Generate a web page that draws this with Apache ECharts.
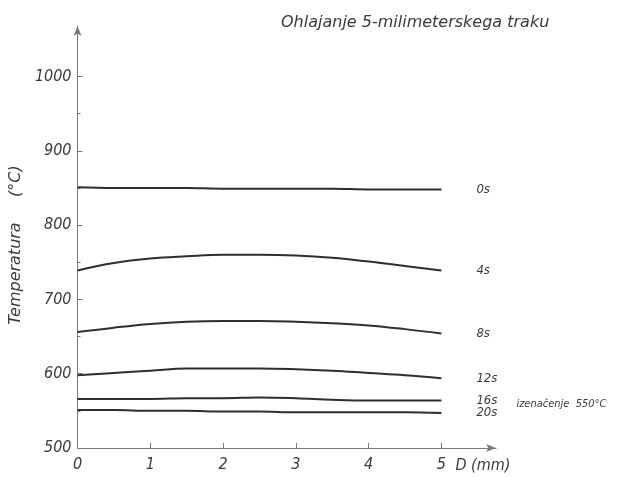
<!DOCTYPE html>
<html>
<head>
<meta charset="utf-8">
<script src="https://cdn.jsdelivr.net/npm/echarts@6/dist/echarts.min.js"></script>
<style>
  html, body { margin: 0; padding: 0; background: #fff; }
  #chart { width: 633px; height: 477px; }
</style>
</head>
<body>
<div id="chart"></div>
<script>
// Strip thickness coordinate D (mm)
const positions = [0, 0.5, 1, 1.5, 2, 2.5, 3, 3.5, 4, 4.5, 5];
// Temperature profiles across the strip at each cooling time
const times = ['0s', '4s', '8s', '12s', '16s', '20s'];
const temp0s  = [851, 850, 850, 850, 849, 849, 849, 849, 848, 848, 848];
const temp4s  = [739, 749, 755, 758, 760, 760, 759, 756, 751, 745, 739];
const temp8s  = [656, 662, 667, 670, 671, 671, 670, 668, 665, 660, 654];
const temp12s = [598, 601, 604, 607, 607, 607, 606, 604, 601, 598, 594];
const temp16s = [566, 566, 566, 567, 567, 568, 567, 565, 564, 564, 564];
const temp20s = [551, 551, 550, 550, 549, 549, 548, 548, 548, 548, 547];
const profiles = [temp0s, temp4s, temp8s, temp12s, temp16s, temp20s];
// Axis ticks
const xTicks = [0, 1, 2, 3, 4, 5];
const yTicks = [500, 600, 700, 800, 900, 1000];
const yMinorTicks = [550, 650, 750, 850, 950];

const ink = '#3a3a3a';
const axisInk = '#7a7a7a';
const fontCond = '"DejaVu Sans Condensed", "DejaVu Sans", sans-serif';
const fontWide = '"DejaVu Sans", sans-serif';

const chart = echarts.init(document.getElementById('chart'), null, { renderer: 'canvas' });

const series = profiles.map((vals, i) => ({
  name: times[i],
  type: 'line',
  data: positions.map((p, j) => [p, vals[j]]),
  smooth: 0.4,
  showSymbol: false,
  lineStyle: { color: '#2e2e2e', width: 2 },
  endLabel: {
    show: true,
    formatter: times[i],
    distance: 35,
    color: ink,
    fontFamily: fontCond,
    fontStyle: 'italic',
    fontSize: 13
  },
  animation: false
}));

chart.setOption({
  backgroundColor: '#ffffff',
  animation: false,
  grid: { left: 76, right: 137, top: 26, bottom: 29, containLabel: false },
  title: {
    text: 'Ohlajanje 5-milimeterskega traku',
    left: 276, top: 10,
    textStyle: { color: ink, fontFamily: fontWide, fontStyle: 'italic', fontWeight: 'normal', fontSize: 16 }
  },
  xAxis: {
    type: 'value', min: 0, max: 5.75,
    splitLine: { show: false },
    axisLine: { lineStyle: { color: axisInk, width: 1 }, symbol: ['none', 'arrow'], symbolSize: [6, 10] },
    axisTick: { inside: true, length: 5, lineStyle: { color: axisInk }, customValues: xTicks },
    axisLabel: { customValues: xTicks, margin: 9, color: ink, fontFamily: fontCond, fontStyle: 'italic', fontSize: 16 }
  },
  yAxis: [
    {
      type: 'value', min: 500, max: 1068,
      name: 'Temperatura     (°C)',
      nameLocation: 'middle', nameGap: 48, nameRotate: 90,
      nameTextStyle: { color: ink, fontFamily: fontWide, fontStyle: 'italic', fontSize: 16, padding: [0, 16, 0, 0] },
      splitLine: { show: false },
      axisLine: { lineStyle: { color: axisInk, width: 1 }, symbol: ['none', 'arrow'], symbolSize: [6, 10] },
      axisTick: { inside: true, length: 5, lineStyle: { color: axisInk }, customValues: yTicks },
      axisLabel: {
        customValues: yTicks, margin: 6, color: ink, fontFamily: fontCond, fontStyle: 'italic', fontSize: 16,
        formatter: v => String(v)
      }
    },
    {
      // half-step ticks on the temperature axis
      type: 'value', min: 500, max: 1068, position: 'left',
      splitLine: { show: false },
      axisLine: { show: false },
      axisTick: { inside: true, length: 3, lineStyle: { color: axisInk }, customValues: yMinorTicks },
      axisLabel: { show: false }
    }
  ],
  series: series
});

// Annotations anchored to the data coordinates
const pUnit = chart.convertToPixel({ gridIndex: 0 }, [5, 500]);
const pEq = chart.convertToPixel({ gridIndex: 0 }, [5, 558]);
chart.setOption({
  graphic: [
    {
      type: 'text', left: pUnit[0] + 14, top: pUnit[1] + 10,
      style: { text: 'D (mm)', fill: ink, font: 'italic 16px ' + fontCond }
    },
    {
      type: 'text', left: pEq[0] + 75, top: pEq[1] - 6,
      style: { text: 'izenačenje  550°C', fill: ink, font: 'italic 11px ' + fontCond }
    }
  ]
});
</script>
</body>
</html>
